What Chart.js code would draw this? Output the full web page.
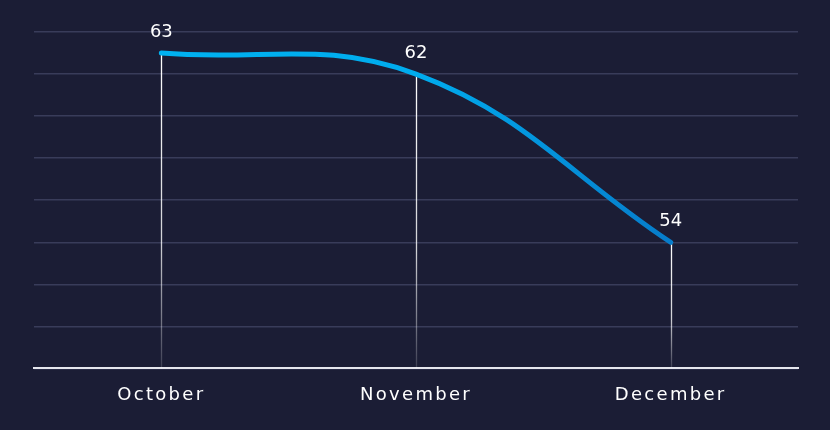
<!DOCTYPE html>
<html>
<head>
<meta charset="utf-8">
<script src="https://cdn.jsdelivr.net/npm/chart.js@4"></script>
<style>
html,body{margin:0;padding:0;background:#1b1d35;}
#wrap{width:830px;height:430px;}
</style>
</head>
<body>
<div id="wrap"><canvas id="c" width="830" height="430"></canvas></div>
<script>
const categories = ["October", "November", "December"];
const values = [63, 62, 54];
const yMin = 48, yMax = 64, yStep = 2;

const dropLines = {
  id: 'dropLines',
  beforeDraw(chart) {
    chart.ctx.letterSpacing = '2.3px';
  },
  beforeDatasetsDraw(chart) {
    const ctx = chart.ctx;
    const meta = chart.getDatasetMeta(0);
    const bottom = chart.chartArea.bottom;
    meta.data.forEach(pt => {
      const g = ctx.createLinearGradient(0, pt.y, 0, bottom);
      g.addColorStop(0, 'rgba(255,255,255,1)');
      g.addColorStop(0.6, 'rgba(255,255,255,0.8)');
      g.addColorStop(1, 'rgba(255,255,255,0.15)');
      ctx.save();
      ctx.strokeStyle = g;
      ctx.lineWidth = 1.3;
      ctx.beginPath();
      ctx.moveTo(Math.round(pt.x) + 0.5, pt.y);
      ctx.lineTo(Math.round(pt.x) + 0.5, bottom);
      ctx.stroke();
      ctx.restore();
    });
  },
  afterDatasetsDraw(chart) {
    const ctx = chart.ctx;
    const meta = chart.getDatasetMeta(0);
    ctx.save();
    ctx.letterSpacing = '0px';
    ctx.fillStyle = '#ffffff';
    ctx.font = '18px "DejaVu Sans", sans-serif';
    ctx.textAlign = 'center';
    ctx.textBaseline = 'alphabetic';
    meta.data.forEach((pt, i) => {
      ctx.fillText(String(values[i]), pt.x, pt.y - 16);
    });
    ctx.restore();
  }
};

const ctx = document.getElementById('c').getContext('2d');
new Chart(ctx, {
  type: 'line',
  data: {
    labels: categories,
    datasets: [{
      data: values,
      borderWidth: 5,
      borderCapStyle: 'round',
      tension: 0.4,
      pointRadius: 0,
      pointHoverRadius: 0,
      fill: false,
      borderColor: (c) => {
        const ca = c.chart.chartArea;
        if (!ca) return '#00b0f0';
        const g = c.chart.ctx.createLinearGradient(ca.left, 0, ca.right, 0);
        g.addColorStop(0, '#00b4f2');
        g.addColorStop(0.5, '#00acee');
        g.addColorStop(1, '#0a64b8');
        return g;
      }
    }]
  },
  options: {
    responsive: false,
    animation: false,
    events: [],
    layout: { padding: { left: 34, right: 32, top: 32, bottom: 8 } },
    plugins: { legend: { display: false }, tooltip: { enabled: false } },
    scales: {
      x: {
        offset: true,
        grid: { display: false, drawTicks: false },
        border: { display: true, color: '#e6e6ee', width: 2 },
        ticks: {
          color: '#ffffff',
          padding: 16,
          font: { family: '"DejaVu Sans", sans-serif', size: 18 }
        }
      },
      y: {
        min: yMin, max: yMax,
        ticks: { display: false, stepSize: yStep },
        grid: { color: '#393c5a', lineWidth: 1.5, drawTicks: false },
        border: { display: false }
      }
    }
  },
  plugins: [dropLines]
});
</script>
</body>
</html>
